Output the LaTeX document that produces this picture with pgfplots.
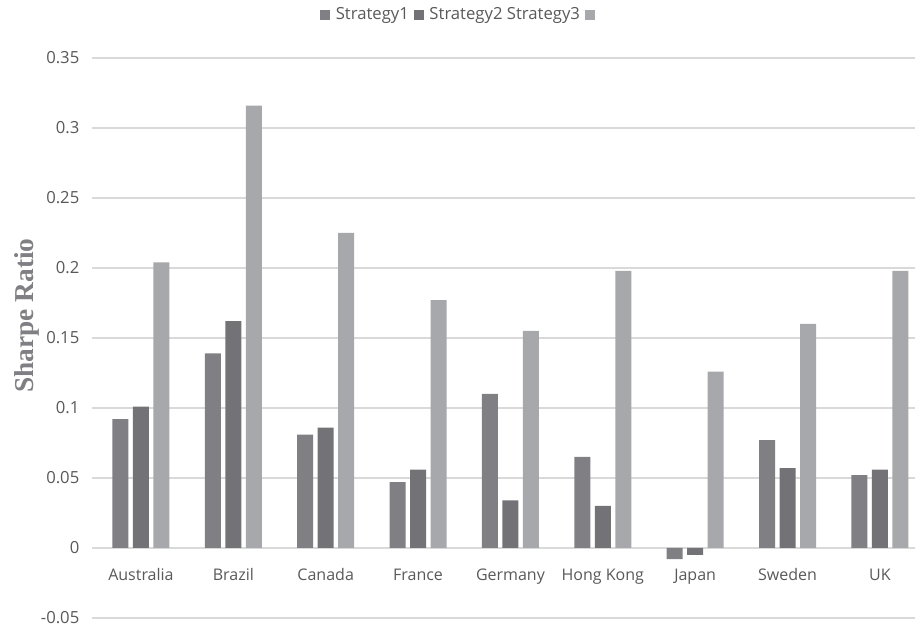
\documentclass[border=0pt]{standalone}
\usepackage{pgfplots}
\pgfplotsset{compat=1.18}
\usepackage{fontspec}
\setmainfont{Open Sans}
\newfontfamily\labelfont{Liberation Serif}
\definecolor{sone}{HTML}{808084}
\definecolor{stwo}{HTML}{737377}
\definecolor{sthree}{HTML}{A7A8AB}
\definecolor{txt}{HTML}{595959}
\definecolor{gridc}{HTML}{D9D9D9}
\begin{document}
\begin{tikzpicture}
\path[use as bounding box] (-69pt,-6.75pt) rectangle (617.25pt,463.5pt);
\begin{axis}[
  at={(0,0)}, anchor=south west,
  width=617.25pt, height=420pt, scale only axis,
  xmin=-0.53, xmax=8.38, ymin=-0.05, ymax=0.35,
  axis x line=middle, axis y line=left,
  axis line style={draw=none},
  xtick={0,...,8},
  xticklabels={Australia,Brazil,Canada,France,Germany,Hong Kong,Japan,Sweden,UK},
  ytick={-0.05,0,0.05,0.1,0.15,0.2,0.25,0.3,0.35},
  yticklabels={-0.05,0,0.05,0.1,0.15,0.2,0.25,0.3,0.35},
  major tick length=0pt,
  ymajorgrids, grid style={gridc, line width=0.9pt},
  ticklabel style={font=\fontsize{11.5}{13}\selectfont, text=txt},
  xticklabel style={yshift=-12pt, font=\fontsize{12}{14}\selectfont},
  yticklabel style={xshift=-6pt, font=\fontsize{12.5}{14}\selectfont},
  ylabel={Sharpe Ratio},
  ylabel style={font=\labelfont\bfseries\fontsize{20.5}{22}\selectfont, text=sone, at={(axis description cs:-0.079,0.54)}, anchor=center},
  ybar=3.4pt, bar width=12pt,
  legend style={at={(axis description cs:0.451,1.077)}, anchor=center, draw=none, fill=none,
    legend columns=-1, font=\fontsize{12.5}{14}\selectfont, text=txt, nodes={inner xsep=4pt}},
  legend image code/.code={\fill[#1] (0pt,-3.6pt) rectangle (7.5pt,3.9pt);},
]
\addplot[draw=none, fill=sone] coordinates {(0,0.092) (1,0.139) (2,0.081) (3,0.047) (4,0.110) (5,0.065) (6,-0.008) (7,0.077) (8,0.052)};
\addlegendentry{Strategy1\hspace{9pt}}
\addplot[draw=none, fill=stwo] coordinates {(0,0.101) (1,0.162) (2,0.086) (3,0.056) (4,0.034) (5,0.030) (6,-0.005) (7,0.057) (8,0.056)};
\addlegendentry{Strategy2 Strategy3\hspace{9pt}}
\addplot[draw=none, fill=sthree] coordinates {(0,0.204) (1,0.316) (2,0.225) (3,0.177) (4,0.155) (5,0.198) (6,0.126) (7,0.160) (8,0.198)};
\addlegendentry{\mbox{}}
\end{axis}
\end{tikzpicture}
\end{document}
